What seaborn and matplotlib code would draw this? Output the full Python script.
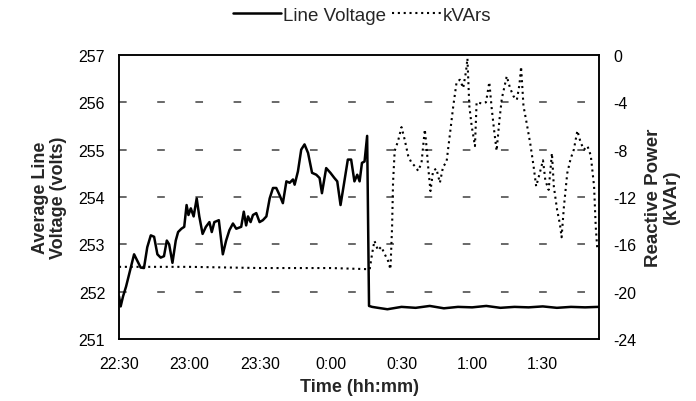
import numpy as np
import pandas as pd
import matplotlib
matplotlib.use("Agg")
import matplotlib.pyplot as plt
from matplotlib.lines import Line2D
import seaborn as sns

# minutes after 22:30
volt_min = [0, 0.7, 1.7, 3, 5, 6.4, 7.8, 9.2, 10.6, 12, 13.5, 14.9, 16.3, 17.7, 19.1,
            20.3, 21.3, 22.7, 24.1, 25.1, 26.5, 27.7, 28.7, 29.5, 30.5, 31.7, 33, 34.1,
            35.5, 36.9, 38.4, 39.4, 40.5, 42.4, 44.1, 45.5, 46.9, 48.4, 49.8, 51.9, 53,
            54, 54.8, 55.9, 56.9, 58.3, 59.7, 61.1, 62.6, 64, 65.4, 66.8, 68.2, 69.6,
            71.1, 72.5, 73.9, 74.6, 76, 77.4, 78.8, 80.3, 82, 83.8, 85.2, 86.2, 88, 89.8,
            91.5, 92.7, 94.1, 95.5, 97.2, 98.6, 100, 101.2, 102.2, 103.2, 104.3, 105.4,
            106.2, 107.5, 110, 114, 120, 126, 132, 138, 144, 150, 156, 162, 168, 174,
            180, 186, 192, 198, 203.5]
volt_val = [251.9, 251.69, 251.9, 252.11, 252.51, 252.79, 252.65, 252.51, 252.5, 252.94,
            253.19, 253.16, 252.79, 252.72, 252.75, 253.08, 253.0, 252.61, 253.08, 253.26,
            253.33, 253.37, 253.83, 253.62, 253.76, 253.59, 253.97, 253.59, 253.22, 253.37,
            253.47, 253.26, 253.47, 253.51, 252.79, 253.08, 253.3, 253.44, 253.33, 253.37,
            253.69, 253.4, 253.59, 253.47, 253.62, 253.66, 253.47, 253.51, 253.59, 253.97,
            254.19, 254.19, 254.04, 253.87, 254.33, 254.3, 254.37, 254.26, 254.54, 255.0,
            255.11, 254.93, 254.51, 254.47, 254.4, 254.08, 254.61, 254.51, 254.4, 254.33,
            253.83, 254.26, 254.79, 254.79, 254.33, 254.47, 254.33, 254.72, 254.75, 255.29,
            251.7, 251.68, 251.66, 251.63, 251.68, 251.66, 251.7, 251.65, 251.68, 251.67,
            251.7, 251.66, 251.68, 251.67, 251.69, 251.66, 251.68, 251.67, 251.68]

kvar_min = [0, 30, 60, 90, 106.5, 107.5, 108.5, 110, 111.4, 112.8, 114.3, 115.3, 116,
            116.4, 117.1, 118.5, 120, 121.4, 122.8, 124.2, 125.7, 127.1, 128.5, 129.9,
            130.6, 131.3, 132.3, 133.4, 134.8, 136.3, 137.7, 139.1, 140.5, 142, 143.4,
            144.8, 146.2, 147.4, 148, 148.8, 149.8, 151.2, 151.9, 154, 155.9, 157.3,
            158.3, 159.3, 160.4, 161.6, 162.6, 163.6, 164.7, 166.1, 167.6, 169, 170.1,
            170.8, 171.8, 173.2, 174.7, 176.1, 177.2, 178.7, 180.1, 181.1, 182.5, 183.9,
            184.7, 186.1, 187.3, 188, 189, 190.4, 191.8, 193.2, 194.7, 196.1, 197.5, 199,
            200.4, 201.8, 202.5, 203.2]
kvar_val = [-17.9, -17.9, -18.0, -18.0, -18.1, -16.8, -15.7, -16.5, -16.2, -16.8, -17.4,
            -18.1, -14.5, -10.8, -8.1, -7.3, -6.1, -7.2, -8.5, -9.1, -9.4, -9.8, -9.1,
            -6.3, -7.7, -9.4, -11.5, -9.8, -9.6, -10.8, -9.4, -9.1, -6.8, -4.3, -2.3,
            -2.1, -2.8, -1.4, -0.3, -4.3, -6.0, -7.7, -4.0, -4.1, -4.0, -2.3, -4.5, -6.3,
            -8.1, -5.5, -3.7, -2.8, -1.8, -2.8, -3.5, -3.8, -2.5, -1.0, -4.3, -5.8, -7.5,
            -9.4, -11.1, -10.0, -8.9, -10.6, -11.4, -8.3, -11.1, -13.1, -14.3, -15.4,
            -12.8, -10.0, -8.8, -8.0, -6.4, -7.4, -8.0, -7.7, -8.5, -11.1, -14.5, -16.5]

tick_pos = [0, 30, 60, 90, 120, 150, 180]
tick_labels = ["22:30", "23:00", "23:30", "0:00", "0:30", "1:00", "1:30"]

df_v = pd.DataFrame({"t": volt_min, "v": volt_val})
df_k = pd.DataFrame({"t": kvar_min, "k": kvar_val})

sns.set_style("white")
plt.rcParams["font.family"] = ["Liberation Sans", "DejaVu Sans"]
plt.rcParams["axes.unicode_minus"] = False

fig = plt.figure(figsize=(6.96, 4.02), dpi=100)
ax = fig.add_axes([0.171, 0.154, 0.690, 0.707])
ax2 = ax.twinx()

sns.lineplot(data=df_v, x="t", y="v", ax=ax, color="black", lw=1.8, sort=False)
sns.lineplot(data=df_k, x="t", y="k", ax=ax2, color="black", lw=1.5,
             linestyle=(0, (1, 1.8)), sort=False)

ax.set_xlim(0, 204)
ax.set_ylim(251, 257)
ax2.set_ylim(-24, 0)
ax.set_yticks(range(251, 258))
ax2.set_yticks(range(-24, 1, 4))
ax.set_xticks(tick_pos)
ax.set_xticklabels(tick_labels)

# broken-looking dashed gridlines
for y in [252, 253, 254, 255, 256]:
    ax.axhline(y, color="black", lw=1.1, linestyle=(0, (5, 20)), alpha=0.75, zorder=0)

for a in (ax, ax2):
    for s in a.spines.values():
        s.set_color("black")
        s.set_linewidth(1.1)
    a.tick_params(length=0, labelsize=11.5, colors="black")
ax.tick_params(axis="y", pad=10)
ax.tick_params(axis="x", pad=12)
ax2.tick_params(axis="y", pad=10)

ax.set_xlabel("Time (hh:mm)", fontsize=13, fontweight="bold", labelpad=5)
ax.set_ylabel("Average Line\nVoltage (volts)", fontsize=13, fontweight="bold",
              labelpad=8, linespacing=1.1)
ax2.set_ylabel("Reactive Power\n(kVAr)", fontsize=13.5, fontweight="bold",
               labelpad=6, linespacing=1.1)

handles = [Line2D([], [], color="black", lw=1.8),
           Line2D([], [], color="black", lw=1.5, linestyle=(0, (1, 1.8)))]
fig.legend(handles, ["Line Voltage", "kVArs"], loc="center", ncol=2,
           bbox_to_anchor=(0.52, 0.96), frameon=False, fontsize=13.5,
           handlelength=2.6, handletextpad=0.1, columnspacing=0.3)

fig.savefig("out.png", dpi=100)
